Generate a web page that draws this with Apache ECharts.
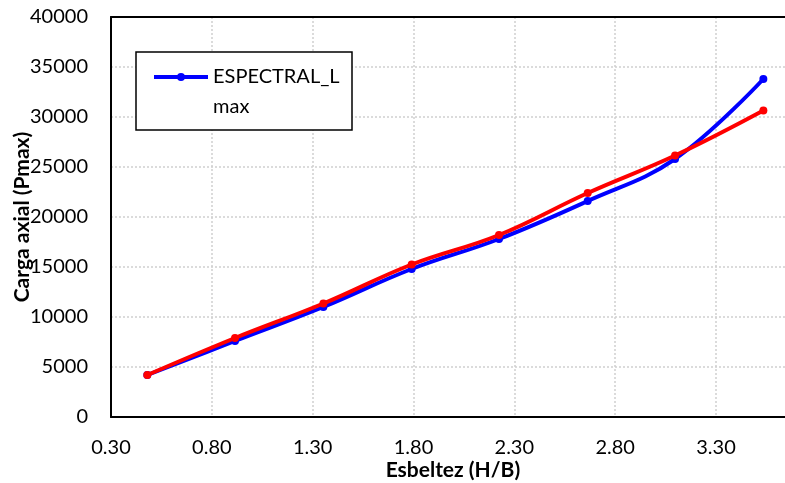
<!DOCTYPE html>
<html><head><meta charset="utf-8">
<script src="https://cdn.jsdelivr.net/npm/echarts@6/dist/echarts.min.js"></script>
<style>html,body{margin:0;padding:0;background:#fff}#c{width:785px;height:483px}</style>
</head><body><div id="c"></div>
<script>
const xValues = [0.48, 0.915, 1.353, 1.791, 2.224, 2.664, 3.097, 3.535];
const blueValues = [4200, 7600, 11000, 14800, 17800, 21600, 25800, 33800];
const redValues = [4200, 7900, 11350, 15250, 18200, 22400, 26150, 30650];
const blueName = 'ESPECTRAL_Lmax';
const blueLegendLines = ['ESPECTRAL_L', 'max'];
const redName = 'Serie2';

const font = 'Lato, "Open Sans", sans-serif';
const legendIcon = 'path://M0,0h0.1v0.1h-0.1z M53.9,59.9h0.1v0.1h-0.1z M0,13h54v4h-54z M23,15a4,4 0 1,1 8,0a4,4 0 1,1 -8,0z';
const chart = echarts.init(document.getElementById('c'), null, {renderer:'canvas'});
chart.setOption({
  animation:false,
  backgroundColor:'#fff',
  grid:{left:111, top:17, width:705.8, height:400, show:false, containLabel:false, outerBoundsMode:'none'},
  legend:{
    data:[blueName], left:136, top:52,
    orient:'vertical', padding:[10,5,8,18], borderColor:'#000', borderWidth:1.5, backgroundColor:'#fff',
    icon:legendIcon, itemWidth:54, itemHeight:60, itemGap:0,
    formatter:()=>'{a|'+blueLegendLines[0]+'}\n{a|'+blueLegendLines[1]+'}',
    textStyle:{rich:{a:{fontFamily:font, fontSize:20, color:'#000', lineHeight:30, width:134}}}
  },
  xAxis:[{
    type:'value', min:0.3, max:3.8, interval:0.5,
    name:'Esbeltez (H/B)', nameLocation:'middle', nameGap:43, nameMoveOverlap:false,
    nameTextStyle:{fontFamily:font, fontSize:21, fontWeight:'bold', color:'#000', padding:[0,22,0,0]},
    axisLine:{show:true, lineStyle:{color:'#000', width:2}},
    axisTick:{show:false},
    axisLabel:{fontFamily:font, fontSize:20, color:'#000', margin:21, formatter:v=>v.toFixed(2)},
    splitLine:{show:true, lineStyle:{color:'#cfcfcf', type:[2,2], width:1.5}}
  },{
    type:'value', position:'top', min:0.3, max:3.8, interval:0.5,
    axisLine:{show:true, onZero:false, lineStyle:{color:'#000', width:2}},
    axisTick:{show:false}, axisLabel:{show:false}, splitLine:{show:false}
  }],
  yAxis:{
    type:'value', min:0, max:40000, interval:5000,
    name:'Carga axial (Pmax)', nameLocation:'middle', nameGap:78, nameMoveOverlap:false,
    nameTextStyle:{fontFamily:font, fontSize:21, fontWeight:'bold', color:'#000'},
    axisLine:{show:true, lineStyle:{color:'#000', width:2}},
    axisTick:{show:false},
    axisLabel:{fontFamily:font, fontSize:20, color:'#000', margin:23, formatter:v=>String(v)},
    splitLine:{show:true, lineStyle:{color:'#cfcfcf', type:[2,2], width:1.5}}
  },
  series:[
    {name:blueName, type:'line', smooth:0.4, data:xValues.map((x,i)=>[x,blueValues[i]]),
     symbol:'circle', symbolSize:8, itemStyle:{color:'#0000ff'}, lineStyle:{color:'#0000ff', width:4}, z:2},
    {name:redName, type:'line', smooth:0.4, data:xValues.map((x,i)=>[x,redValues[i]]),
     symbol:'circle', symbolSize:8, itemStyle:{color:'#ff0000'}, lineStyle:{color:'#ff0000', width:4}, z:3}
  ]
});
</script></body></html>
